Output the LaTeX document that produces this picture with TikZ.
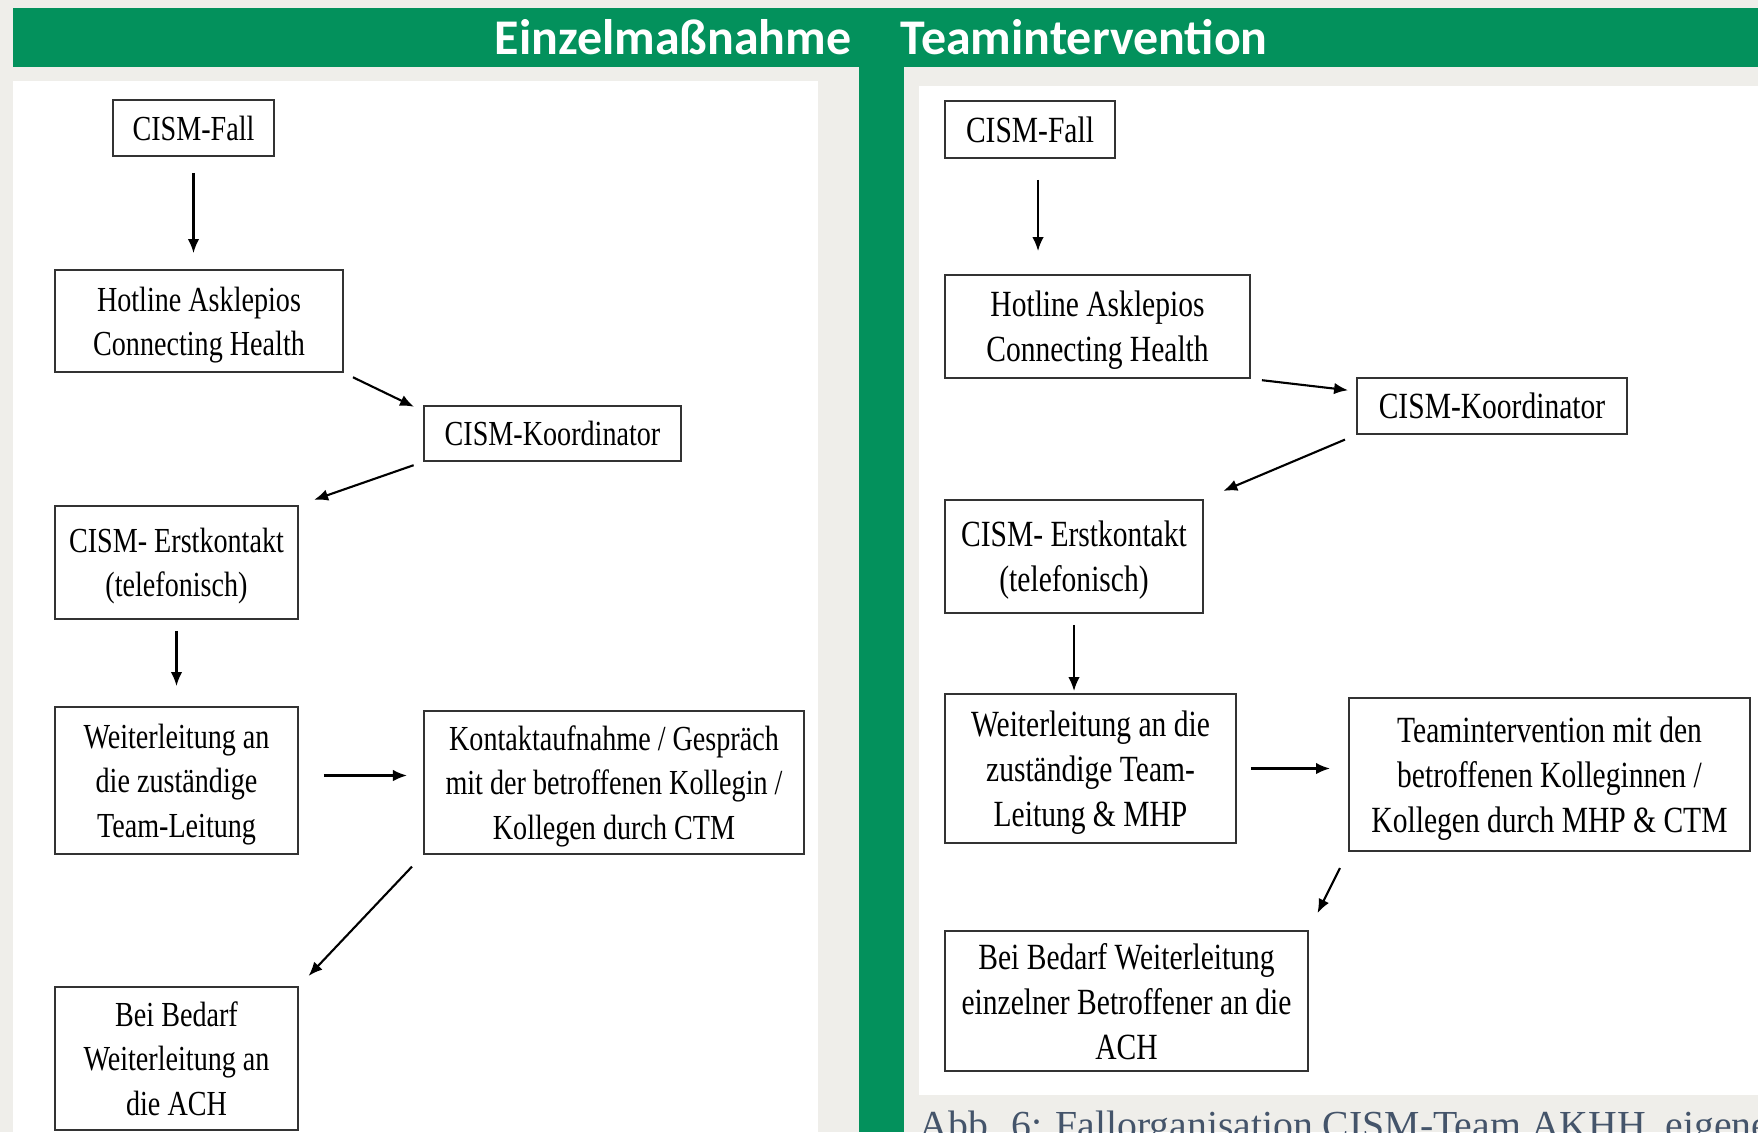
\documentclass[tikz,border=0pt]{standalone}
\usepackage{fontspec}
\usetikzlibrary{arrows.meta}

\newfontfamily\boxfont{Liberation Serif}[FakeStretch=0.8]
\newfontfamily\headfont{Carlito}
\newfontfamily\capfont{Liberation Serif}
\definecolor{akgreen}{RGB}{3,145,92}
\definecolor{akgrey}{RGB}{239,238,234}
\definecolor{akcaption}{RGB}{68,84,106}

\begin{document}
\begin{tikzpicture}[
  x=0.01cm,y=-0.01cm,
  flow/.style={draw,line width=0.6pt,-{Latex[length=1.4mm,width=1.15mm]}},
  headline/.style={anchor=base,inner sep=0,text=white,
    font=\headfont\bfseries\fontsize{14.2}{17}\selectfont},
  ]
  \useasboundingbox (0,0) rectangle (1758,1132);
  \clip (0,0) rectangle (1758,1132);
  % background and panels
  \fill[akgrey] (0,0) rectangle (1758,1132);
  \fill[akgreen] (13,8) rectangle (1758,67);
  \fill[akgreen] (859,67) rectangle (904,1132);
  \fill[white] (13,81) rectangle (818,1132);
  \fill[white] (919,86) rectangle (1758,1095);
  \node[headline] (headLeft) at (673,54) {Einzelmaßnahme};
  \node[headline,anchor=base west] (headRight) at (900,54) {Teamintervention};
  \node[anchor=base west,inner sep=0,text=akcaption,
    font=\capfont\fontsize{11.3}{14}\selectfont] (caption) at (919,1138)
    {Abb. 6: Fallorganisation CISM-Team AKHH, eigene};
  % Einzelmassnahme
  \begin{scope}[every node/.style={draw=black!80,line width=0.5pt,align=center,
      inner sep=0,text depth=-1.5pt,font=\boxfont\fontsize{10}{12.6}\selectfont}]
    \node[minimum width=1.61cm,minimum height=0.56cm] (leftFall) at (193.5,128) {CISM-Fall};
    \node[minimum width=2.88cm,minimum height=1.02cm] (leftHotline) at (199,321)
      {Hotline Asklepios\\Connecting Health};
    \node[minimum width=2.57cm,minimum height=0.55cm] (leftKoord) at (552.5,433.5) {CISM-Koordinator};
    \node[minimum width=2.43cm,minimum height=1.13cm] (leftErst) at (176.5,562.5)
      {CISM- Erstkontakt\\(telefonisch)};
    \node[minimum width=2.43cm,minimum height=1.47cm] (leftWeiter) at (176.5,780.5)
      {Weiterleitung an\\die zuständige\\Team-Leitung};
    \node[minimum width=3.80cm,minimum height=1.43cm] (leftKontakt) at (614,782.5)
      {Kontaktaufnahme / Gespräch\\mit der betroffenen Kollegin /\\Kollegen durch CTM};
    \node[minimum width=2.43cm,minimum height=1.43cm] (leftBedarf) at (176.5,1058.5)
      {Bei Bedarf\\Weiterleitung an\\die ACH};
  \end{scope}
  % Teamintervention
  \begin{scope}[every node/.style={draw=black!80,line width=0.5pt,align=center,
      inner sep=0,text depth=-1.5pt,font=\boxfont\fontsize{10.5}{12.8}\selectfont}]
    \node[minimum width=1.70cm,minimum height=0.57cm] (rightFall) at (1030,129.5) {CISM-Fall};
    \node[minimum width=3.05cm,minimum height=1.03cm] (rightHotline) at (1097.5,326.5)
      {Hotline Asklepios\\Connecting Health};
    \node[minimum width=2.70cm,minimum height=0.56cm] (rightKoord) at (1492,406) {CISM-Koordinator};
    \node[minimum width=2.58cm,minimum height=1.13cm] (rightErst) at (1074,556.5)
      {CISM- Erstkontakt\\(telefonisch)};
    \node[minimum width=2.91cm,minimum height=1.49cm] (rightWeiter) at (1090.5,768.5)
      {Weiterleitung an die\\zuständige Team-\\Leitung \& MHP};
    \node[minimum width=4.01cm,minimum height=1.53cm] (rightTeam) at (1549.5,774.5)
      {Teamintervention mit den\\betroffenen Kolleginnen /\\Kollegen durch MHP \& CTM};
    \node[minimum width=3.63cm,minimum height=1.40cm] (rightBedarf) at (1126.5,1001)
      {Bei Bedarf Weiterleitung\\einzelner Betroffener an die\\ACH};
  \end{scope}
  % connectors
  \path[flow,shorten <=0.16cm,shorten >=0.16cm]
    (leftFall.south) -- (leftFall.south |- leftHotline.north);
  \path[flow,shorten <=0.1cm,shorten >=0.1cm]
    (leftHotline.south east) -- ([yshift=-0.06cm]leftKoord.north west);
  \path[flow,shorten <=0.1cm,shorten >=0.16cm]
    (leftKoord.south west) -- (leftErst.north east);
  \path[flow,shorten <=0.11cm,shorten >=0.2cm]
    (leftErst.south) -- (leftWeiter.north);
  \path[flow,shorten <=0.25cm,shorten >=0.16cm]
    ([yshift=0.05cm]leftWeiter.east) -- ([yshift=0.05cm]leftWeiter.east -| leftKontakt.west);
  \path[flow,shorten <=0.16cm,shorten >=0.14cm]
    (leftKontakt.south west) -- (leftBedarf.north east);
  \path[flow,shorten <=0.21cm,shorten >=0.23cm]
    ([xshift=0.08cm]rightFall.south) -- ([xshift=0.08cm]rightFall.south |- rightHotline.north);
  \path[flow,shorten <=0.11cm,shorten >=0.08cm]
    (rightHotline.south east) -- ([yshift=-0.14cm]rightKoord.north west);
  \path[flow,shorten <=0.12cm,shorten >=0.21cm]
    (rightKoord.south west) -- (rightErst.north east);
  \path[flow,shorten <=0.11cm,shorten >=0.02cm]
    (rightErst.south) -- (rightErst.south |- rightWeiter.north);
  \path[flow,shorten <=0.14cm,shorten >=0.18cm]
    (rightWeiter.east) -- (rightWeiter.east -| rightTeam.west);
  \path[flow,shorten <=0.18cm,shorten >=0.19cm]
    (rightTeam.south west) -- (rightBedarf.north east);
\end{tikzpicture}
\end{document}
